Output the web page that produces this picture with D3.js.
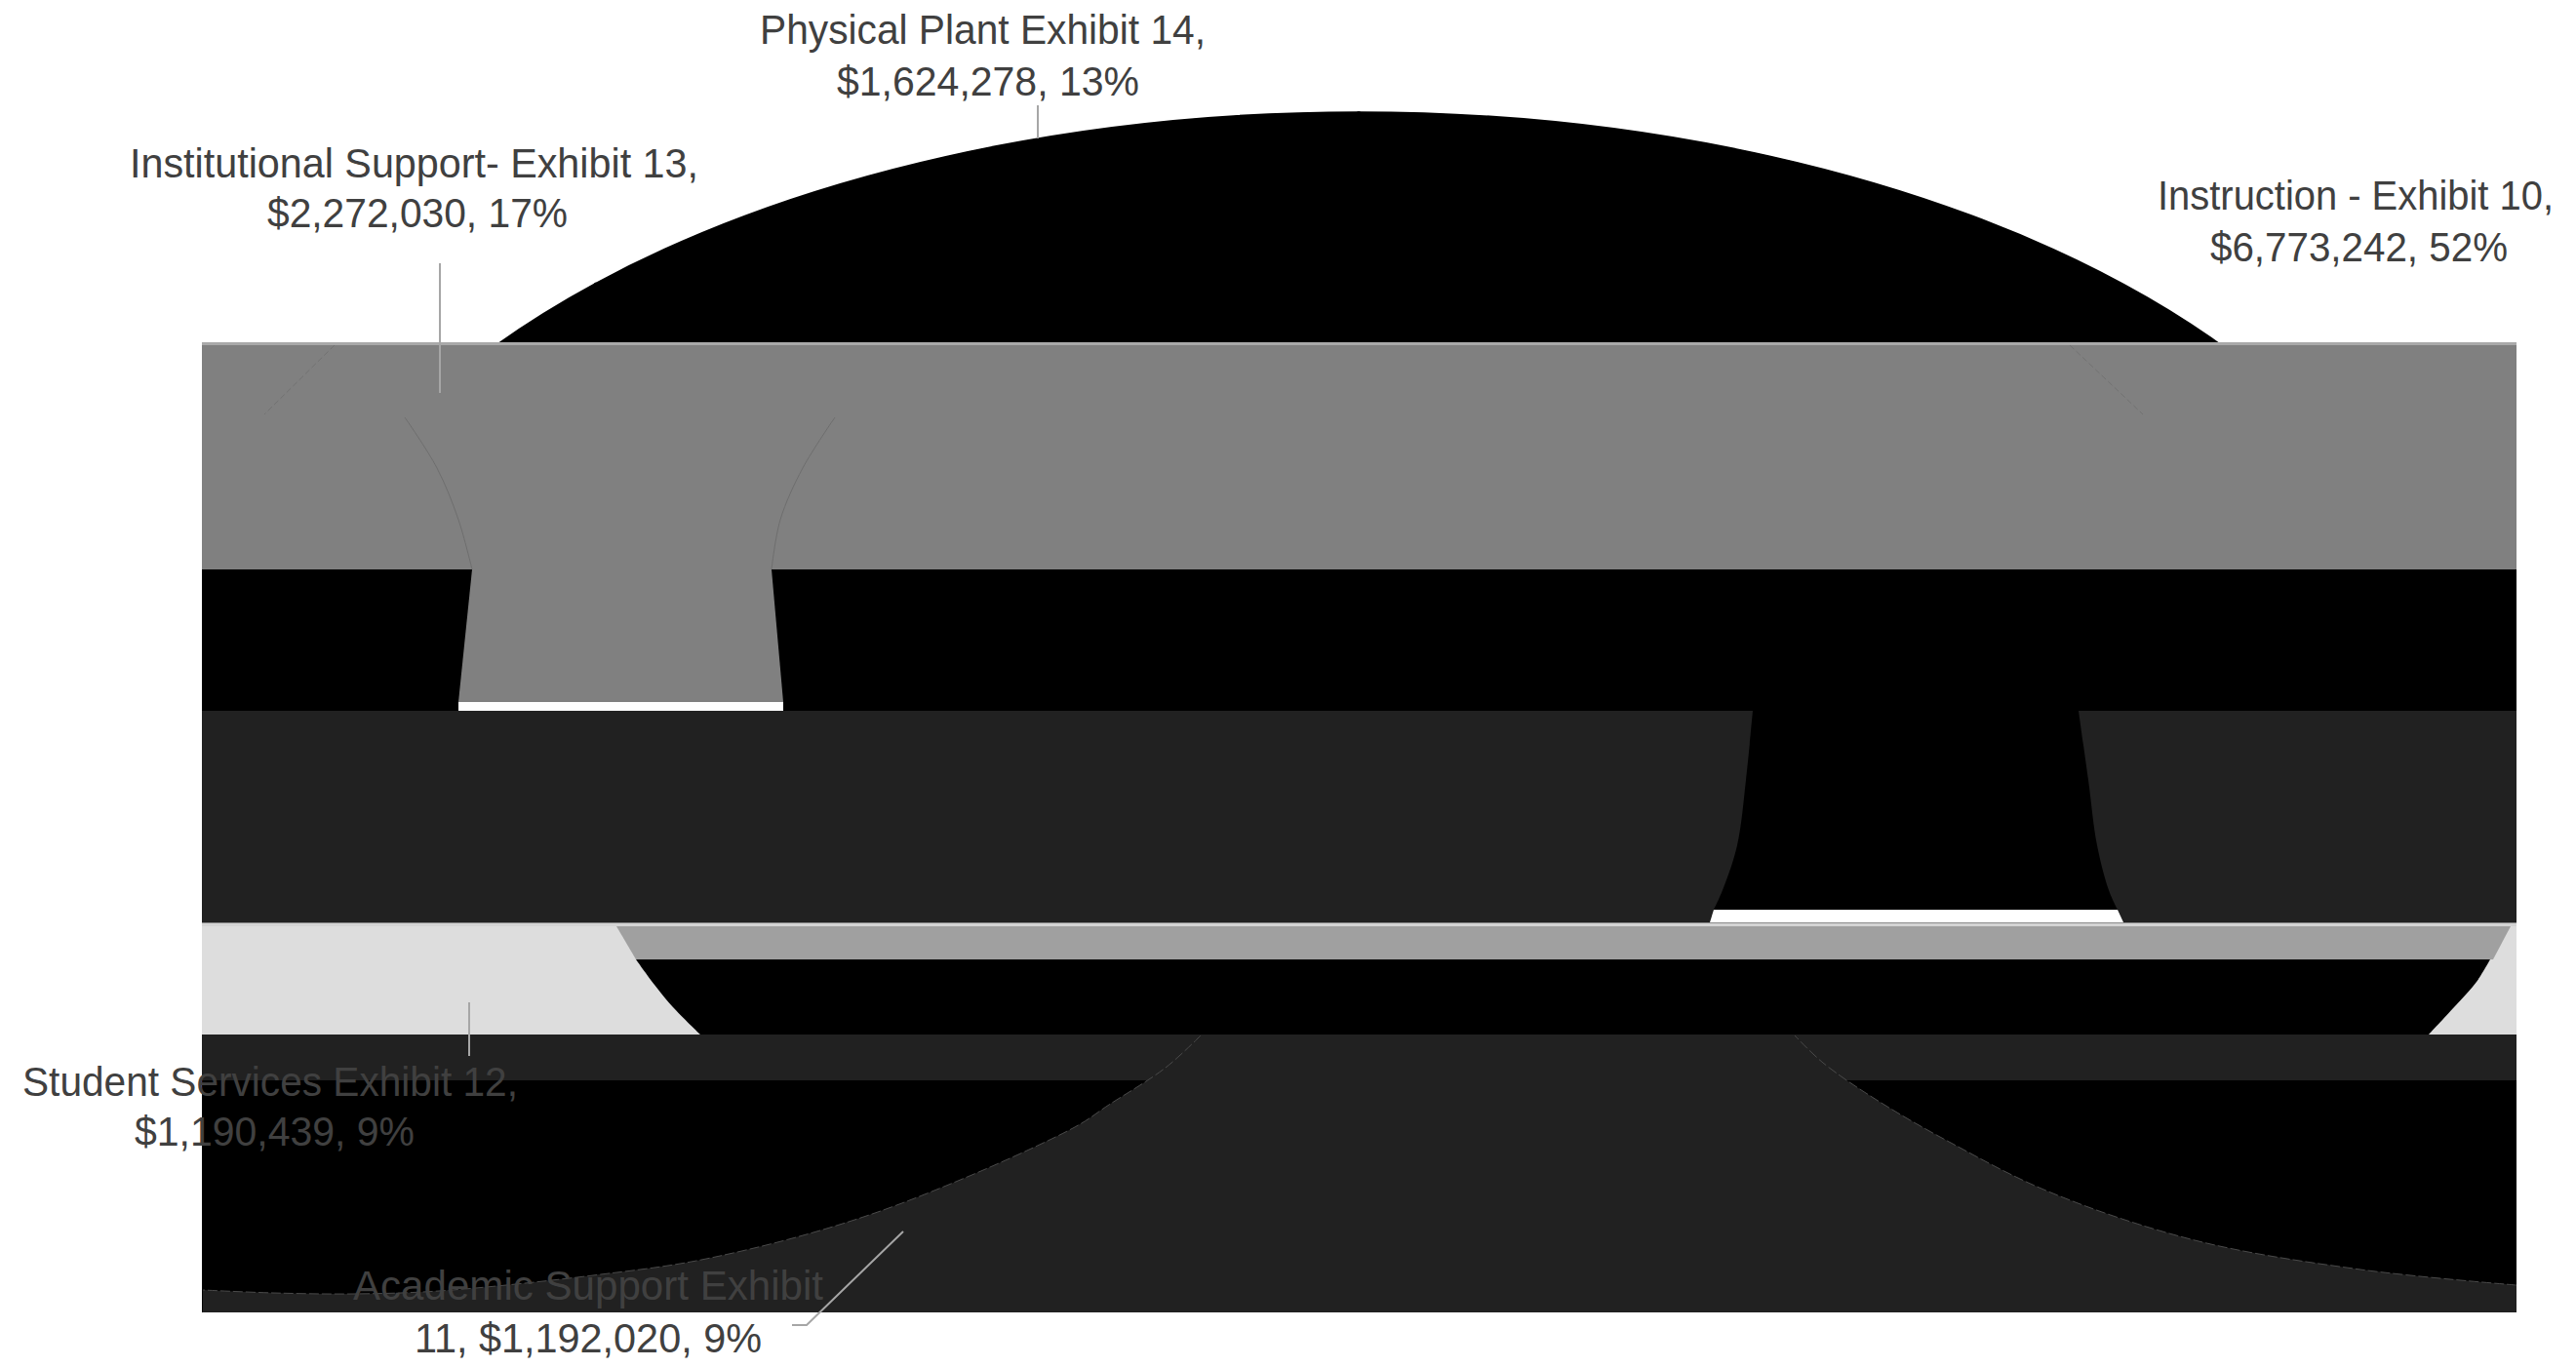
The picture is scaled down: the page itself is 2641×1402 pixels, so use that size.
<!DOCTYPE html>
<html><head><meta charset="utf-8">
<script src="https://cdn.jsdelivr.net/npm/d3@7"></script>
<style>html,body{margin:0;padding:0;background:#fff;overflow:hidden}svg{display:block}</style>
</head><body>
<svg id="c" width="2641" height="1402"></svg>
<script>
// ---- data ----
const categories = ["Instruction - Exhibit 10", "Academic Support Exhibit 11", "Student Services Exhibit 12", "Institutional Support- Exhibit 13", "Physical Plant Exhibit 14"];
const values = [6773242, 1192020, 1190439, 2272030, 1624278];
const percentLabels = [52, 9, 9, 17, 13];
const wrapWords = [4, 3, 4, 4, 4];

// ---- layout ----
const W = 2641, H = 1402;
const cx = 1393, cy = 720, rx = 1110, ry = 605;
const X0 = 207, X1 = 2580, PW = X1 - X0;
const labelLayout = [
  {x1: 2212, y1: 215, w1: 406, x2: 2266, y2: 268, w2: 305},
  {x1: 362, y1: 1333, w1: 482, x2: 425, y2: 1387, w2: 356},
  {x1: 23, y1: 1124, w1: 508, x2: 138, y2: 1175, w2: 287},
  {x1: 133, y1: 182, w1: 583, x2: 274, y2: 233, w2: 308},
  {x1: 779, y1: 45, w1: 457, x2: 858, y2: 98, w2: 310}
];
const leaders = [
  null,
  [[812, 1359], [827, 1359], [926, 1263]],
  [[481, 1028], [481, 1083]],
  [[451, 270], [451, 403]],
  [[1064, 108], [1064, 142]]
];

const svg = d3.select("#c");
svg.append("rect").attr("width", W).attr("height", H).attr("fill", "#fff");

// pie top face (elliptical)
const pie = d3.pie().sort(null).startAngle(0).endAngle(2 * Math.PI);
const arc = d3.arc().innerRadius(0).outerRadius(rx);
const gPie = svg.append("g").attr("transform", `translate(${cx},${cy}) scale(1,${ry / rx})`);
gPie.append("ellipse").attr("rx", rx).attr("ry", rx).attr("fill", "#000");
gPie.selectAll("path").data(pie(values)).join("path")
  .attr("d", arc).attr("fill", "#000").attr("stroke", "#000").attr("stroke-width", 3);

// helpers
const curve = d3.line().curve(d3.curveCatmullRom);
const poly = pts => "M" + pts.map(p => p.join(",")).join("L") + "Z";
const joinCurves = (...parts) => parts.map((p, i) => {
  const s = p.length > 2 ? curve(p) : "M" + p.map(q => q.join(",")).join("L");
  return i === 0 ? s : "L" + s.slice(1);
}).join("") + "Z";
const rect = (y0, y1, fill) => svg.append("rect").attr("x", X0).attr("y", y0).attr("width", PW).attr("height", y1 - y0).attr("fill", fill);
const path = (d, fill, stroke, sw) => svg.append("path").attr("d", d).attr("fill", fill || "none").attr("stroke", stroke || "none").attr("stroke-width", sw || 0);

// band A
rect(351, 354, "#a9a9a9");
rect(354, 584, "#808080");
path(curve([[415, 428], [448, 480], [470, 533], [484, 584]]), null, "#6e6e6e", 1);
path(curve([[856, 428], [823, 480], [800, 533], [791, 584]]), null, "#6e6e6e", 1);
path(curve([[343, 354], [271, 425]]), null, "#727272", 1).attr("stroke-dasharray", "6 3");
path(curve([[2122, 354], [2197, 425]]), null, "#727272", 1).attr("stroke-dasharray", "6 3");

// band B
rect(584, 729, "#000");
path(poly([[484, 584], [791, 584], [803, 720], [470, 720]]), "#808080");
path(poly([[470, 720], [803, 720], [803, 729], [470, 729]]), "#fff");

// band C
rect(729, 946, "#212121");
path(joinCurves([[1797, 729], [1790, 800], [1781, 867], [1766, 913], [1757, 933]],
                [[2171, 933], [2162, 913], [2150, 867], [2141, 800], [2131, 729]]), "#000");
path(poly([[1757, 933], [2171, 933], [2177, 946], [1753, 946]]), "#fff");

// separator
rect(946, 947, "#8a8a8a");
rect(947, 950, "#d4d4d4");

// band D
rect(950, 1061, "#dddddd");
path(poly([[632, 950], [2574, 950], [2556, 984], [652, 984]]), "#a0a0a0");
path(joinCurves([[652, 984], [671, 1010], [690, 1033], [718, 1061]],
                [[2490, 1061], [2516, 1033], [2539, 1007], [2553, 984]]), "#000");

// band E / F
rect(1061, 1108, "#212121");
rect(1108, 1346, "#000");
const wedgeLeft = [[1231, 1062], [1195, 1095], [1137, 1133], [1100, 1157], [900, 1243], [729, 1290], [608, 1308], [450, 1324], [362, 1327], [280, 1326], [208, 1323]];
const wedgeRight = [[2580, 1318], [2420, 1302], [2250, 1272], [2100, 1222], [2000, 1172], [1927, 1130], [1869, 1090], [1840, 1062]];
path(joinCurves(wedgeLeft, [[208, 1346], [2580, 1346]], wedgeRight), "#212121");
path(curve(wedgeLeft), null, "#4a4a4a", 1).attr("stroke-dasharray", "10 3");
path(curve(wedgeRight), null, "#4a4a4a", 1).attr("stroke-dasharray", "10 3");

// leader lines
svg.append("g").selectAll("path").data(leaders.filter(d => d)).join("path")
  .attr("d", d => "M" + d.map(p => p.join(",")).join("L"))
  .attr("fill", "none").attr("stroke", "#a6a6a6").attr("stroke-width", 2);

// labels
const money = d3.format("$,");
const labels = categories.map((c, i) => {
  const words = `${c}, ${money(values[i])}, ${percentLabels[i]}%`.split(" ");
  return [words.slice(0, wrapWords[i]).join(" "), words.slice(wrapWords[i]).join(" ")];
});
const gl = svg.append("g").attr("font-family", "'Liberation Sans', Arial, sans-serif")
  .attr("font-size", 42).attr("fill", "#404040");
labels.forEach((l, i) => {
  const L = labelLayout[i];
  gl.append("text").attr("x", L.x1).attr("y", L.y1).attr("textLength", L.w1).attr("lengthAdjust", "spacingAndGlyphs").text(l[0]);
  gl.append("text").attr("x", L.x2).attr("y", L.y2).attr("textLength", L.w2).attr("lengthAdjust", "spacingAndGlyphs").text(l[1]);
});
</script>
</body></html>
